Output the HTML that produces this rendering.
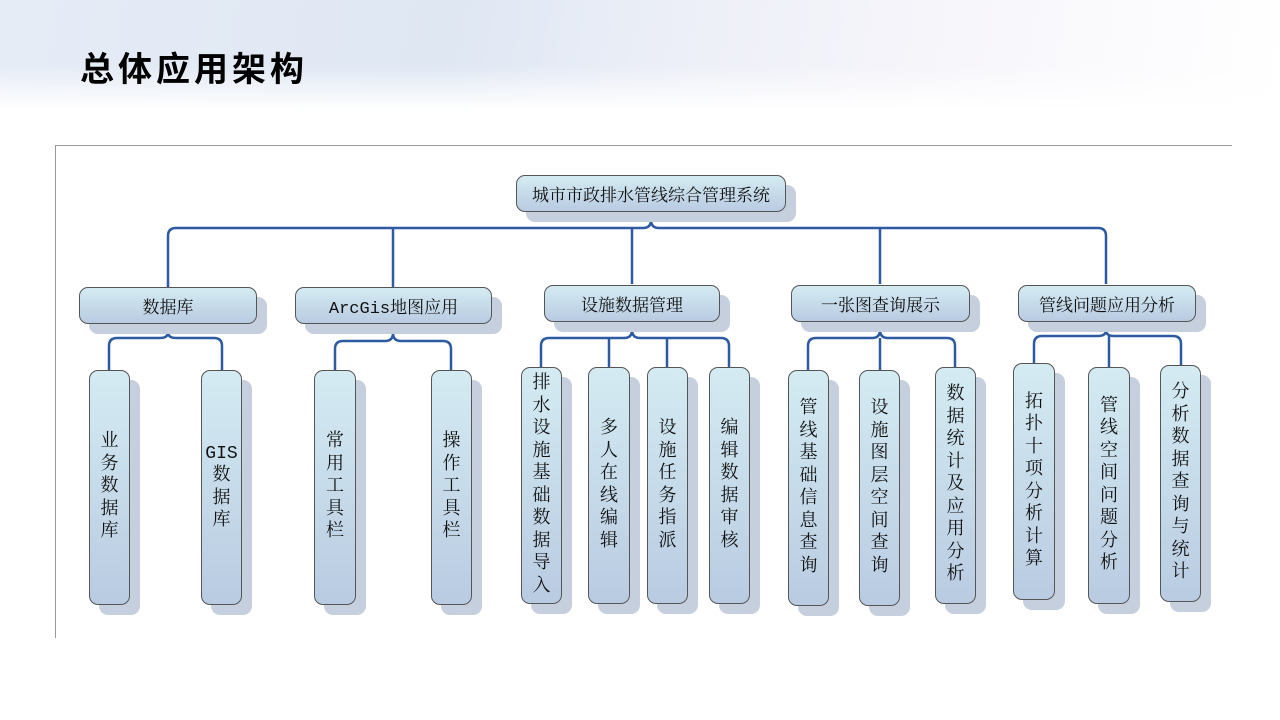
<!DOCTYPE html>
<html><head><meta charset="utf-8"><style>
body{margin:0;width:1280px;height:720px;overflow:hidden;background:#fff;position:relative;font-family:"Liberation Mono","Noto Serif CJK SC",serif;}
.bg{position:absolute;left:0;top:0;width:1280px;height:110px;background:linear-gradient(180deg,rgba(255,255,255,0) 60%,#fff 100%),linear-gradient(100deg,#e6ecf6 0%,#dfe7f3 35%,#eef0f8 55%,#f7f6fb 75%,#fff 100%);}
.title{position:absolute;left:80px;top:42px;font:bold 34px "Noto Sans CJK SC",sans-serif;color:#000;letter-spacing:4px;}
.b{position:absolute;box-sizing:border-box;border:1px solid #555;border-radius:9px;background:linear-gradient(180deg,#d4ebf2 0%,#b9cbe2 100%);box-shadow:10px 10px 0 #c6cfdd;color:#111;font-size:17px;display:flex;align-items:center;justify-content:center;text-align:center;}
.v{line-height:22.5px;padding:0 2px;font-size:18px;}
.fr{position:absolute;background:#999;}
</style></head><body>
<div class="bg"></div>
<div class="title">总体应用架构</div>
<div class="fr" style="left:55px;top:145px;width:1177px;height:1px"></div>
<div class="fr" style="left:55px;top:145px;width:1px;height:493px"></div>
<svg style="position:absolute;left:0;top:0" width="1280" height="720" fill="none" stroke="#2d5aa0" stroke-width="2.5">
<path d="M651 212 V220 Q651 228 643 228 H176 Q168 228 168 236 V287"/>
<path d="M651 220 Q651 228 659 228 H1098 Q1106 228 1106 236 V284"/>
<path d="M393 228 Q393 228 393 236 V287"/>
<path d="M632 228 V284"/><path d="M880 228 V284"/>
<path d="M168 324 V332 Q168 338 160 338 H117 Q109 338 109 346 V370 M168 332 Q168 338 176 338 H214 Q222 338 222 346 V370"/>
<path d="M393 324 V333 Q393 341 385 341 H343 Q335 341 335 349 V370 M393 333 Q393 341 401 341 H443 Q451 341 451 349 V370"/>
<path d="M632 322 V330 Q632 338 624 338 H549 Q541 338 541 346 V367 M632 330 Q632 338 640 338 H721 Q729 338 729 346 V367 M609 338 V367 M667 338 V367"/>
<path d="M880 322 V330 Q880 338 872 338 H816 Q808 338 808 346 V370 M880 330 Q880 338 888 338 H947 Q955 338 955 346 V367 M880 338 V370"/>
<path d="M1106 322 V330 Q1106 336 1098 336 H1042 Q1034 336 1034 344 V363 M1106 330 Q1106 336 1114 336 H1173 Q1181 336 1181 344 V365 M1109 336 V367"/>
</svg>
<div class="b" style="left:516px;top:175px;width:270px;height:37px">城市市政排水管线综合管理系统</div>
<div class="b" style="left:79px;top:287px;width:178px;height:37px">数据库</div>
<div class="b" style="left:295px;top:287px;width:197px;height:37px">ArcGis地图应用</div>
<div class="b" style="left:544px;top:285px;width:176px;height:37px">设施数据管理</div>
<div class="b" style="left:791px;top:285px;width:179px;height:37px">一张图查询展示</div>
<div class="b" style="left:1018px;top:285px;width:178px;height:37px">管线问题应用分析</div>
<div class="b v" style="left:89px;top:370px;width:41px;height:235px">业<br>务<br>数<br>据<br>库</div>
<div class="b v" style="left:201px;top:370px;width:41px;height:235px">GIS<br>数<br>据<br>库</div>
<div class="b v" style="left:314px;top:370px;width:42px;height:235px">常<br>用<br>工<br>具<br>栏</div>
<div class="b v" style="left:431px;top:370px;width:41px;height:235px">操<br>作<br>工<br>具<br>栏</div>
<div class="b v" style="left:521px;top:367px;width:41px;height:237px">排<br>水<br>设<br>施<br>基<br>础<br>数<br>据<br>导<br>入</div>
<div class="b v" style="left:588px;top:367px;width:42px;height:237px">多<br>人<br>在<br>线<br>编<br>辑</div>
<div class="b v" style="left:647px;top:367px;width:41px;height:237px">设<br>施<br>任<br>务<br>指<br>派</div>
<div class="b v" style="left:709px;top:367px;width:41px;height:237px">编<br>辑<br>数<br>据<br>审<br>核</div>
<div class="b v" style="left:788px;top:370px;width:41px;height:236px">管<br>线<br>基<br>础<br>信<br>息<br>查<br>询</div>
<div class="b v" style="left:859px;top:370px;width:41px;height:236px">设<br>施<br>图<br>层<br>空<br>间<br>查<br>询</div>
<div class="b v" style="left:935px;top:367px;width:41px;height:237px">数<br>据<br>统<br>计<br>及<br>应<br>用<br>分<br>析</div>
<div class="b v" style="left:1013px;top:363px;width:42px;height:237px">拓<br>扑<br>十<br>项<br>分<br>析<br>计<br>算</div>
<div class="b v" style="left:1088px;top:367px;width:42px;height:237px">管<br>线<br>空<br>间<br>问<br>题<br>分<br>析</div>
<div class="b v" style="left:1160px;top:365px;width:41px;height:237px">分<br>析<br>数<br>据<br>查<br>询<br>与<br>统<br>计</div>
</body></html>
